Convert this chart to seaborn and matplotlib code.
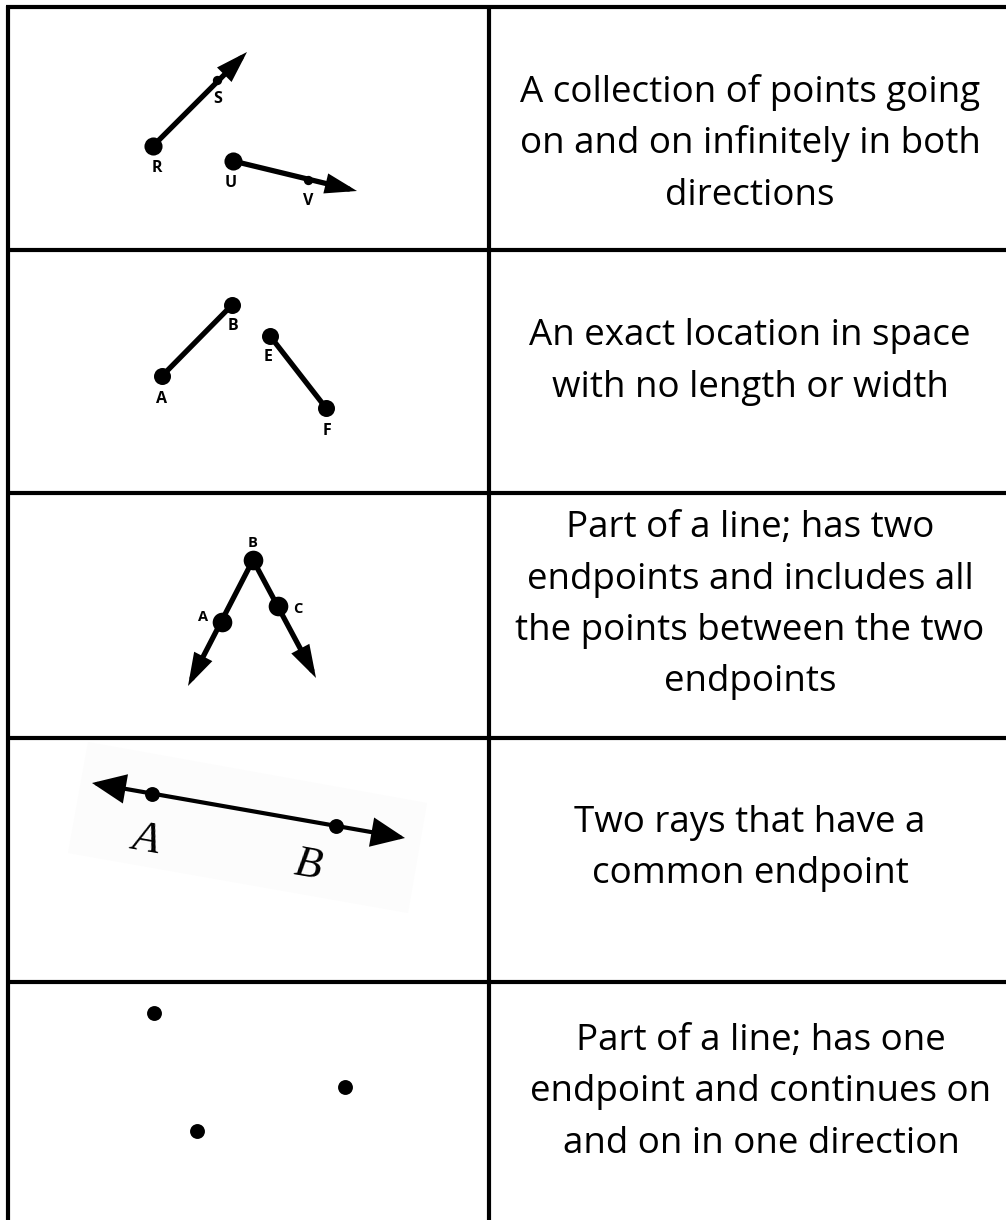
import matplotlib
matplotlib.use("Agg")
import matplotlib.pyplot as plt
import seaborn as sns
import pandas as pd

# ---------------- data (pixel coordinates of the worksheet) ----------------
grid_rows_y = [7, 250, 493, 738, 982]
grid_cols_x = [8, 489]

# row 1: two rays
ray1_pts = {"R": (153, 146), "S": (217, 80)}
ray1_tip = (247, 52)
ray2_pts = {"U": (233, 161), "V": (308, 180)}
ray2_tip = (357, 191)
row1_labels = {"R": (157, 168), "S": (218, 99), "U": (231, 183), "V": (308, 201)}

# row 2: two segments
seg1_pts = {"A": (162, 376), "B": (232, 305)}
seg2_pts = {"E": (270, 336), "F": (326, 408)}
row2_labels = {"A": (162, 399), "B": (233, 326), "E": (268, 357), "F": (327, 431)}

# row 3: angle
angle_vertex = (253, 560)
angle_pts = {"A": (222, 622), "C": (278, 606)}
angle_tips = [(188, 686), (316, 678)]
row3_labels = {"B": (253, 543), "A": (203, 617), "C": (298, 609)}

# row 4: line AB
line_ends = [(92, 783), (405, 838)]
line_pts = {"A": (152, 794), "B": (336, 826)}
row4_labels = {"A": (146, 840), "B": (308, 866)}
bg_poly_x = [88, 427, 408, 68]
bg_poly_y = [742, 803, 913, 853]

# row 5: points
free_pts_x = [154, 345, 197]
free_pts_y = [1013, 1087, 1131]

# definitions (right column)
definitions = [
    ["A collection of points going", "on and on infinitely in both", "directions"],
    ["An exact location in space", "with no length or width"],
    ["Part of a line; has two", "endpoints and includes all",
     "the points between the two", "endpoints"],
    ["Two rays that have a", "common endpoint"],
    ["Part of a line; has one", "endpoint and continues on", "and on in one direction"],
]
def_first_baseline = [102, 345, 537, 832, 1050]
def_center_x = [750, 750, 750, 750, 761]
line_step = 51.5

# ---------------- figure ----------------
sns.set_theme(style="white")
plt.rcParams["font.family"] = ["Open Sans", "DejaVu Sans"]

fig = plt.figure(figsize=(10.06, 12.2), dpi=100)
ax = fig.add_axes([0, 0, 1, 1])
ax.set_xlim(0, 1006)
ax.set_ylim(1220, 0)
ax.axis("off")

# table grid
ax.hlines(grid_rows_y, grid_cols_x[0] - 2, 1006, color="black", lw=3)
ax.vlines(grid_cols_x, grid_rows_y[0] - 1.5, 1220, color="black", lw=3)

K = "black"
lbl_kw = dict(fontsize=11.5, fontweight="bold", ha="center", va="center",
              family=["Open Sans", "DejaVu Sans"], color=K)


def ray(start, tip, lw, hl, hw, style="-|>"):
    ax.annotate("", xy=tip, xytext=start,
                arrowprops=dict(arrowstyle=f"{style},head_length={hl},head_width={hw}",
                                color=K, lw=lw, shrinkA=0, shrinkB=0,
                                joinstyle="miter"))


def dots(pts, size):
    df = pd.DataFrame(list(pts), columns=["x", "y"])
    sns.scatterplot(data=df, x="x", y="y", s=size, color=K, edgecolor=K,
                    linewidth=0, ax=ax, legend=False, zorder=5)


# row 1
ray(ray1_pts["R"], ray1_tip, 3.8, 1.25, 0.4)
ray(ray2_pts["U"], ray2_tip, 3.8, 1.25, 0.4)
dots([ray1_pts["R"], ray2_pts["U"]], 170)
dots([ray1_pts["S"], ray2_pts["V"]], 45)
for k, (x, y) in row1_labels.items():
    ax.text(x, y, k, **lbl_kw)

# row 2
for seg in (seg1_pts, seg2_pts):
    df = pd.DataFrame(list(seg.values()), columns=["x", "y"])
    sns.lineplot(data=df, x="x", y="y", sort=False, color=K, lw=3.8, ax=ax,
                 estimator=None, legend=False)
dots(list(seg1_pts.values()) + list(seg2_pts.values()), 150)
for k, (x, y) in row2_labels.items():
    ax.text(x, y, k, **lbl_kw)

# row 3
for tip in angle_tips:
    ray(angle_vertex, tip, 3.8, 1.3, 0.4)
dots([angle_vertex] + list(angle_pts.values()), 200)
for k, (x, y) in row3_labels.items():
    ax.text(x, y, k, **{**lbl_kw, "fontsize": 10.5})

# row 4
ax.fill(bg_poly_x, bg_poly_y, color="#fcfcfc", lw=0, zorder=0)
ray(line_ends[0], line_ends[1], 3.0, 1.6, 0.7, style="<|-|>")
dots(list(line_pts.values()), 115)
for k, (x, y) in row4_labels.items():
    ax.text(x, y, k, fontsize=32, fontstyle="italic", family="Liberation Serif",
            ha="center", va="center", rotation=-10, color=K)

# row 5
dots(list(zip(free_pts_x, free_pts_y)), 115)

# definitions
for lines, y0, cx in zip(definitions, def_first_baseline, def_center_x):
    for i, t in enumerate(lines):
        ax.text(cx, y0 + i * line_step, t, fontsize=26.5, ha="center",
                va="baseline", color=K)

ax.set_xlabel("")
ax.set_ylabel("")
fig.savefig("out.png", dpi=100)
